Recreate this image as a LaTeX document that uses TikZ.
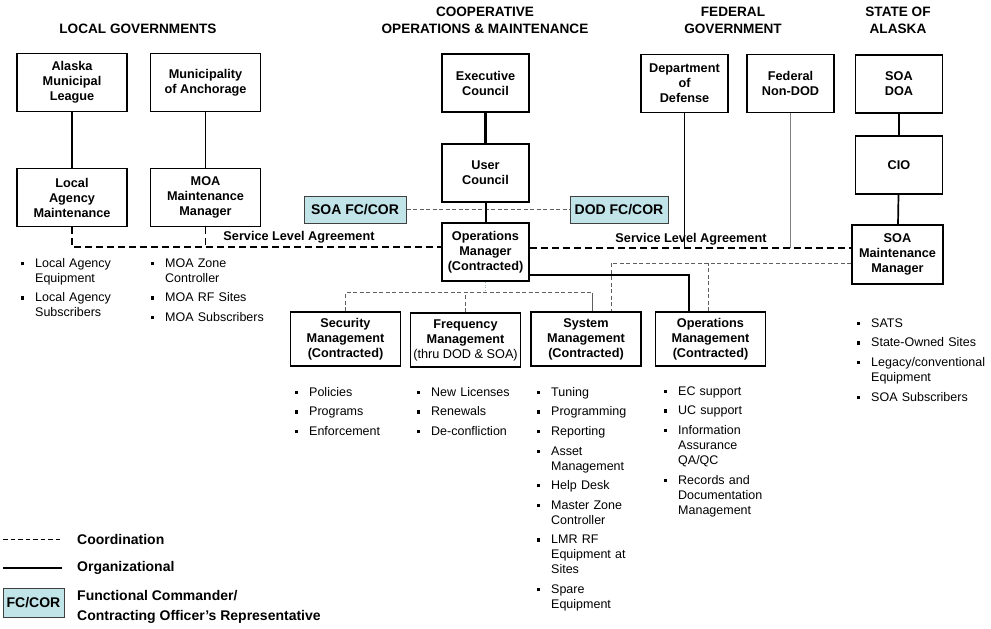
\documentclass[tikz,border=0pt]{standalone}
\usepackage{fontspec}
\setmainfont{Liberation Sans}
\usetikzlibrary{positioning}

\definecolor{fccyan}{RGB}{192,228,232}
\definecolor{coordgray}{RGB}{95,95,95}

\newcommand{\orgunitfont}{\fontsize{12.7}{15}\selectfont\bfseries}
\newcommand{\orgtitlefont}{\fontsize{13.6}{17}\selectfont\bfseries}
\newcommand{\orglistfont}{\fontsize{12.5}{15}\selectfont}
\newcommand{\orglegfont}{\fontsize{14}{20}\selectfont\bfseries}
\newcommand{\orgfcfont}{\fontsize{14}{16}\selectfont\bfseries}
\newcommand{\orgbul}{\ifvmode\else\par\vspace{4.6pt}\fi
  \leftskip=14.5pt\noindent\hspace*{-14.5pt}%
  \makebox[14.5pt][l]{\rule[2.2pt]{3.2pt}{3.2pt}}}

\tikzstyle{unit} = [rectangle,
minimum width=110pt,
minimum height=56pt,
inner sep=1pt,
align=center,
draw=black,
line width=1.6pt,
font=\orgunitfont]
\tikzstyle{head} = [unit,
minimum width=87pt,
minimum height=58pt]
\tikzstyle{fccor} = [rectangle,
minimum width=98pt,
minimum height=27pt,
inner sep=1pt,
draw=black!75,
line width=1pt,
fill=fccyan,
font=\orgfcfont]
\tikzstyle{title} = [align=center, font=\orgtitlefont]
\tikzstyle{slatext} = [font=\orgunitfont]
\tikzstyle{legtext} = [anchor=west, align=left, inner sep=0pt, font=\orglegfont]
\tikzstyle{bullets} = [anchor=north west,
text width=140pt,
align=left,
inner sep=0pt,
font=\orglistfont]
\tikzstyle{org} = [line width=1.2pt]
\tikzstyle{orgthick} = [line width=2.3pt]
\tikzstyle{sla} = [line width=1.8pt, dash pattern=on 7pt off 4pt]
\tikzstyle{coord} = [draw=coordgray, line width=1pt, dash pattern=on 4pt off 2.5pt]
\tikzstyle{feed} = [draw=fccyan!55!gray, line width=0.8pt, dotted]

\begin{document}
\begin{tikzpicture}[x=1pt, y=-1pt, node distance=90pt]
\useasboundingbox (0,0) rectangle (991,629);

% headings
\node (tloc) [title] at (138,29) {LOCAL GOVERNMENTS};
\node (tcoop) [title] at (485,20) {COOPERATIVE\\OPERATIONS \& MAINTENANCE};
\node (tfed) [title] at (733,20) {FEDERAL\\GOVERNMENT};
\node (tsoa) [title] at (898,20) {STATE OF\\ALASKA};

% local governments
\node (aml) [unit, minimum height=58pt] at (72,82.5) {Alaska\\Municipal\\League};
\node (moa) [unit, minimum height=58pt] at (205.5,82.5) {Municipality\\of Anchorage};
\node (lam) [unit, minimum height=58pt, below of=aml, yshift=-25pt] {Local\\Agency\\Maintenance};
\node (moamm) [unit, minimum height=58pt, below of=moa, yshift=-25pt] {MOA\\Maintenance\\Manager};

% cooperative o&m
\node (exec) [head] at (485.5,83) {Executive\\Council};
\node (user) [head, below of=exec] {User\\Council};
\node (opsmgr) [head, below of=user, yshift=11pt] {Operations\\Manager\\(Contracted)};
\node (soafc) [fccor, minimum width=102pt] at (355,209.5) {SOA FC/COR};
\node (dodfc) [fccor] at (619,209.5) {DOD FC/COR};

% federal government
\node (dod) [head] at (684.5,83.5) {Department\\of\\Defense};
\node (nondod) [head] at (790.5,83.5) {Federal\\Non-DOD};

% state of alaska
\node (soadoa) [head] at (899,84) {SOA\\DOA};
\node (cio) [head, below of=soadoa, yshift=9pt] {CIO};
\node (soamm) [head, minimum width=91pt, minimum height=59pt] at (897.5,254.5) {SOA\\Maintenance\\Manager};

% management functions
\node (secm) [unit, minimum height=54pt] at (345.5,339) {Security\\Management\\(Contracted)};
\node (freqm) [unit, minimum height=54pt] at (465.5,340) {Frequency\\Management\\{\mdseries(thru DOD \& SOA)}};
\node (sysm) [unit, minimum height=54pt] at (586,339) {System\\Management\\(Contracted)};
\node (opsm) [unit, minimum height=54pt] at (710.5,339) {Operations\\Management\\(Contracted)};

% bullet lists
\node (lamlist) [bullets] at (20.5,247.4) {\orgbul Local Agency\\Equipment \orgbul Local Agency\\Subscribers\par};
\node (moalist) [bullets] at (150.5,247.4) {\orgbul MOA Zone\\Controller \orgbul MOA RF Sites \orgbul MOA Subscribers\par};
\node (seclist) [bullets] at (294.5,376.4) {\orgbul Policies \orgbul Programs \orgbul Enforcement\par};
\node (freqlist) [bullets] at (416.5,376.4) {\orgbul New Licenses \orgbul Renewals \orgbul De-confliction\par};
\node (syslist) [bullets] at (536.5,376.4) {\orgbul Tuning \orgbul Programming \orgbul Reporting
  \orgbul Asset\\Management \orgbul Help Desk \orgbul Master Zone\\Controller
  \orgbul LMR RF\\Equipment at\\Sites \orgbul Spare\\Equipment\par};
\node (opslist) [bullets] at (663.5,375.4) {\orgbul EC support \orgbul UC support
  \orgbul Information\\Assurance\\QA/QC \orgbul Records and\\Documentation\\Management\par};
\node (soalist) [bullets] at (856.5,307.4) {\orgbul SATS \orgbul State-Owned Sites
  \orgbul Legacy/conventional\\Equipment \orgbul SOA Subscribers\par};

% service level agreements
\coordinate (slal) at ([yshift=5pt]opsmgr.west);
\coordinate (slar) at ([yshift=4pt]opsmgr.east);
\draw [sla] (lam.south) |- (slal);
\draw [sla] (moamm.south) -- (moamm.south |- slal);
\draw [sla] (slar) -- (slar -| soamm.west);
\node (slatl) [slatext] at (299,237) {Service Level Agreement};
\node (slatr) [slatext] at (691,239) {Service Level Agreement};

% coordination
\draw [coord] (soafc) -- (dodfc);
\coordinate (cbus) at ([yshift=-11pt]opsmgr.south);
\draw [feed] (opsmgr.south) -- (cbus);
\draw [coord] (secm.north) |- ([xshift=6pt]sysm.north |- cbus);
\draw [coord] (freqm.north) -- (freqm.north |- cbus);
\draw [draw=coordgray, line width=1pt] ([xshift=6pt]sysm.north) -- ([xshift=6pt]sysm.north |- cbus);
\coordinate (csoa) at ([yshift=-8.5pt]soamm.west);
\draw [coord] (csoa) -| ([xshift=25pt]sysm.north);
\draw [coord] ([xshift=-2pt]opsm.north) -- ([xshift=-2pt]opsm.north |- csoa);

% organizational
\draw [org] (aml) -- (lam);
\draw [org] (moa) -- (moamm);
\draw [orgthick] (exec) -- (user);
\draw [org, line width=2pt] (user) -- (opsmgr);
\draw [org, line width=1.7pt] (soadoa) -- (cio);
\draw [org, line width=1.7pt] (cio) -- (soamm);
\draw [org] (dod.south) -- (dod.south |- slar);
\draw [org, draw=gray] (nondod.south) -- (nondod.south |- slar);
\draw [org, line width=2pt] ([yshift=-23pt]opsmgr.east) -| ([xshift=-21.5pt]opsm.north);

% legend
\coordinate (lgc1) at (3,539);
\coordinate (lgc2) at (62,539);
\coordinate (lgo1) at (3,568);
\coordinate (lgo2) at (62,568);
\draw [line width=0.9pt, dash pattern=on 4.5pt off 3pt] (lgc1) -- (lgc2);
\draw [org, line width=1.4pt] (lgo1) -- (lgo2);
\node (lgctext) [legtext] at (77,539) {Coordination};
\node (lgotext) [legtext] at (77,568) {Organizational};
\node (lgbox) [fccor, minimum width=61pt, minimum height=29pt] at (33.5,602.5) {FC/COR};
\node (lgftext) [legtext] at (77,607) {Functional Commander/\\Contracting Officer's Representative};

\end{tikzpicture}
\end{document}
